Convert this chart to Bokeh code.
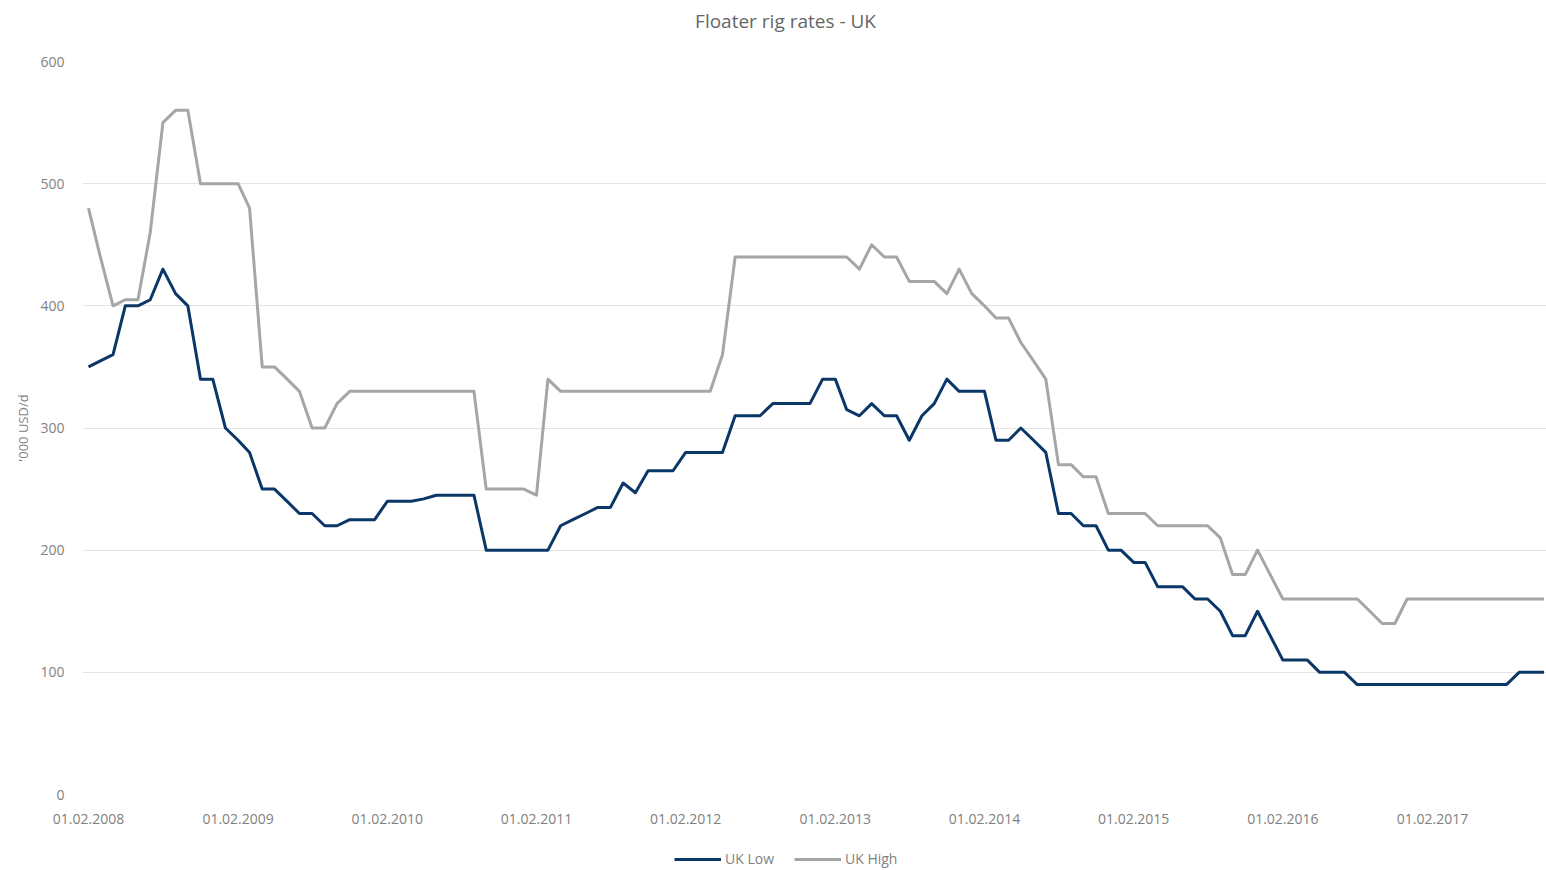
import pandas as pd
from datetime import timedelta
from bokeh.plotting import figure
from bokeh.layouts import column
from bokeh.models import (ColumnDataSource, Range1d, FixedTicker, DatetimeTickFormatter,
                          Legend, LegendItem, Label)
from bokeh.embed import file_html
from bokeh.resources import INLINE

# ---------------- data ----------------
title_text = "Floater rig rates - UK"
y_label = "'000 USD/d"
series_names = ["UK Low", "UK High"]
tick_labels = ["01.02.2008", "01.02.2009", "01.02.2010", "01.02.2011", "01.02.2012",
               "01.02.2013", "01.02.2014", "01.02.2015", "01.02.2016", "01.02.2017"]
y_ticks = [0, 100, 200, 300, 400, 500, 600]

months = pd.date_range("2008-02-01", "2017-11-01", freq="MS")

uk_low = [350, 355, 360, 400, 400, 405, 430, 410, 400, 340,
          340, 300, 290, 280, 250, 250, 240, 230, 230, 220,
          220, 225, 225, 225, 240, 240, 240, 242, 245, 245,
          245, 245, 200, 200, 200, 200, 200, 200, 220, 225,
          230, 235, 235, 255, 247, 265, 265, 265, 280, 280,
          280, 280, 310, 310, 310, 320, 320, 320, 320, 340,
          340, 315, 310, 320, 310, 310, 290, 310, 320, 340,
          330, 330, 330, 290, 290, 300, 290, 280, 230, 230,
          220, 220, 200, 200, 190, 190, 170, 170, 170, 160,
          160, 150, 130, 130, 150, 130, 110, 110, 110, 100,
          100, 100, 90, 90, 90, 90, 90, 90, 90, 90,
          90, 90, 90, 90, 90, 100, 100, 100]

uk_high = [480, 440, 400, 405, 405, 460, 550, 560, 560, 500,
           500, 500, 500, 480, 350, 350, 340, 330, 300, 300,
           320, 330, 330, 330, 330, 330, 330, 330, 330, 330,
           330, 330, 250, 250, 250, 250, 245, 340, 330, 330,
           330, 330, 330, 330, 330, 330, 330, 330, 330, 330,
           330, 360, 440, 440, 440, 440, 440, 440, 440, 440,
           440, 440, 430, 450, 440, 440, 420, 420, 420, 410,
           430, 410, 400, 390, 390, 370, 355, 340, 270, 270,
           260, 260, 230, 230, 230, 230, 220, 220, 220, 220,
           220, 210, 180, 180, 200, 180, 160, 160, 160, 160,
           160, 160, 160, 150, 140, 140, 160, 160, 160, 160,
           160, 160, 160, 160, 160, 160, 160, 160]

# ---------------- styling ----------------
FONT = "Open Sans"
LOW_COLOR = "#0a3768"
HIGH_COLOR = "#a6a6a6"
TEXT_GREY = "#7f7f7f"
TITLE_GREY = "#666666"
GRID = "#e4e4e4"
W = 1546

src = ColumnDataSource(dict(date=months, low=uk_low, high=uk_high))

tick_dates = [pd.to_datetime(t, format="%d.%m.%Y") for t in tick_labels]
tick_ms = [int(d.value // 10**6) for d in tick_dates]

first = tick_dates[0].to_pydatetime()
x_start = first - timedelta(days=14.7)
x_end = first + timedelta(days=3567)
xr = Range1d(x_start, x_end)


def bare(height):
    f = figure(width=W, height=height, output_backend="svg", toolbar_location=None,
               x_range=xr, y_range=Range1d(0, 1), min_border=0,
               x_axis_location=None, y_axis_location=None,
               background_fill_color="white", border_fill_color="white",
               outline_line_color=None)
    f.grid.visible = False
    return f


# ---------------- title strip (frame aligned with the chart's plot area) ----------------
title_fig = bare(40)
title_fig.add_layout(Label(x=703, y=20, x_units="screen", y_units="screen",
                           text=title_text, text_align="center", text_baseline="middle",
                           text_font=FONT, text_font_size="19px", text_color=TITLE_GREY))

# ---------------- main chart ----------------
p = figure(width=W, height=796, output_backend="svg", toolbar_location=None,
           x_axis_type="datetime", x_range=xr, y_range=Range1d(0, 600),
           min_border_left=82, min_border_right=0, min_border_top=21, min_border_bottom=42,
           background_fill_color="white", border_fill_color="white",
           outline_line_color=None)

p.xgrid.visible = False
p.ygrid.ticker = FixedTicker(ticks=y_ticks)
p.ygrid.grid_line_color = GRID
p.ygrid.grid_line_width = 1

yax = p.yaxis[0]
yax.ticker = FixedTicker(ticks=y_ticks)
yax.axis_line_color = None
yax.major_tick_line_color = None
yax.minor_tick_line_color = None
yax.major_tick_out = 0
yax.major_tick_in = 0
yax.major_label_standoff = 18
yax.major_label_text_font = FONT
yax.major_label_text_font_size = "14px"
yax.major_label_text_color = TEXT_GREY
yax.axis_label = y_label
yax.axis_label_standoff = 5
yax.axis_label_text_font = FONT
yax.axis_label_text_font_size = "13px"
yax.axis_label_text_font_style = "normal"
yax.axis_label_text_color = TEXT_GREY

xax = p.xaxis[0]
xax.ticker = FixedTicker(ticks=tick_ms)
xax.formatter = DatetimeTickFormatter(days="%d.%m.%Y", months="%d.%m.%Y",
                                      years="%d.%m.%Y", hours="%d.%m.%Y")
xax.axis_line_color = None
xax.major_tick_line_color = None
xax.minor_tick_line_color = None
xax.major_tick_out = 0
xax.major_tick_in = 0
xax.major_label_standoff = 19
xax.major_label_text_font = FONT
xax.major_label_text_font_size = "14px"
xax.major_label_text_color = TEXT_GREY

line_styles = [dict(line_color=LOW_COLOR, line_width=3, line_join="round"),
               dict(line_color=HIGH_COLOR, line_width=3, line_join="round")]
p.line("date", "low", source=src, **line_styles[0])
p.line("date", "high", source=src, **line_styles[1])

# ---------------- legend strip ----------------
leg_fig = bare(34)
# same series drawn in the strip (outside its 0..1 view) so the legend can show their style
l_low = leg_fig.line("date", "low", source=src, **line_styles[0])
l_high = leg_fig.line("date", "high", source=src, **line_styles[1])
legend = Legend(items=[LegendItem(label=series_names[0], renderers=[l_low]),
                       LegendItem(label=series_names[1], renderers=[l_high])],
                orientation="horizontal", location=(592, 2),
                glyph_width=47, glyph_height=16, label_height=16, label_standoff=4,
                spacing=20, padding=0, margin=0,
                border_line_color=None, background_fill_alpha=0,
                label_text_font=FONT, label_text_font_size="14px",
                label_text_color=TEXT_GREY)
leg_fig.add_layout(legend)

layout = column(title_fig, p, leg_fig, spacing=0)

open("out.html", "w").write(file_html(layout, INLINE))
